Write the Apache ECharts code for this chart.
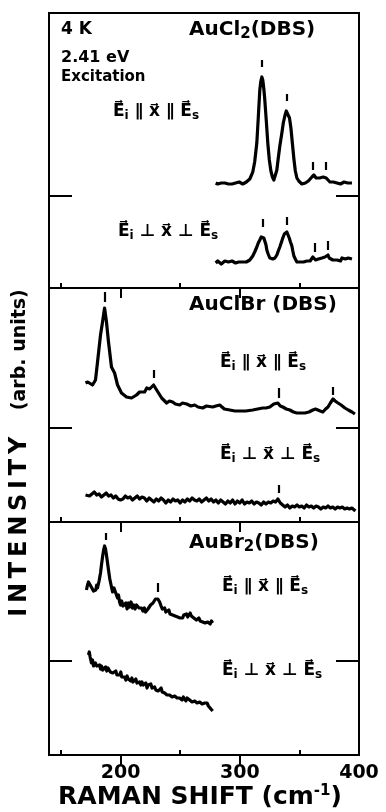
<!DOCTYPE html>
<html><head><meta charset="utf-8">
<script src="https://cdn.jsdelivr.net/npm/echarts@6/dist/echarts.min.js"></script>
<style>html,body{margin:0;padding:0;background:#fff}#c{width:386px;height:812px}</style>
</head><body><div id="c"></div>
<script>
// ---- x-axis ticks / labels (Raman shift, cm-1) ----
const xMinorTicks = [150, 250, 350];
const xMajorTicks = [200, 300];
const xTickLabels = [200, 300, 400];
// baseline-offset marks inside each panel (arb. units)
const offsetMarks = [92, 94, 94];

// ---- AuCl2 (DBS), Ei || x || Es ----
const aucl2ParX = [279.8,281.5,283,284.5,286,287.5,289,290.5,292,293.5,295,296.5,298,299.5,301,302.5,304,305.5,307,308.4,309.5,310.9,312.5,314.3,315.5,316.8,317.7,318.5,319.3,320.2,321,322.2,323.5,324.8,326.1,327.4,328.6,329.9,331.1,332.3,333.6,335.3,336.5,337.8,339,339.5,340.5,341.7,342.9,344.1,345.4,346.6,347.9,349.5,351,352.1,353.5,355,356.3,357.5,359,360.5,361.5,362.2,363,364,365.5,367,368.5,370,371.4,372.5,374,375.6,377,378.5,380,381.5,383,384.5,386,387.5,389,390.5,392,394.1];
const aucl2ParY = [105,104,106,105,103,105,106,104,105,104,106,105,104,106,105,104,105,106,107,109,112,116,126,145,170,198,207,211,208,199,188,168,145,128,117,111,108,110,118,130,142,155,165,172,177,178,176,170,160,145,129,117,110,107,105,104,106,105,106,107,109,111,113,113,112,110,109,110,111,111,111,110,108,106,105,106,104,105,106,104,105,106,104,105,104,105];
const aucl2ParMarkX = [318.5, 339.5, 361.3, 372.3];
const aucl2ParMarkLo = [221, 187, 118, 118];
const aucl2ParMarkHi = [228, 194, 126, 126];

// ---- AuCl2 (DBS), Ei ⊥ x ⊥ Es ----
const aucl2PerpX = [279.8,281.5,283,284.5,285.7,287.5,289,290.5,291.6,293.5,295,296.5,297.5,299,300.5,302.5,304,305.5,307,308.4,309.6,310.9,312.5,314.3,315.5,316.8,318,319.3,320.2,321,322,322.7,323.8,325.2,326.5,327.7,329.5,331.1,332.3,333.6,335,336.1,337.4,338.7,339.5,340.3,341.5,342.5,343.7,344.5,345.4,346.6,347.9,349.5,351,352.1,353.5,355,356.3,357.7,359,360.3,361.3,362.5,363.6,364.7,366,367.5,368.9,370,371.5,372.8,374,375,376.5,378,379.5,381.5,383,384.5,385.7,387,388.5,389.9,391,392.5,394.1];
const aucl2PerpY = [25,27,25,24,26,27,25,26,25,27,26,25,27,26,27,26,27,26,28,28,30,32,36,41,45,48,51,52,50,48,43,38,34,30,29,29,30,33,37,41,46,50,54,56,56,54,50,46,42,37,32,29,26,27,26,27,26,28,27,28,27,29,31,29,28,28,29,28,30,29,31,32,33,30,29,28,30,28,29,27,30,28,29,28,30,28,29];
const aucl2PerpMarkX = [319.3, 339.8, 362.5, 374.0];
const aucl2PerpMarkLo = [61, 63, 36, 38];
const aucl2PerpMarkHi = [69, 71, 45, 47];

// ---- AuClBr (DBS), Ei || x || Es ----
const auclbrParX = [170.6,172.5,174,176.5,179,180.7,183.2,184.9,186.6,188.2,189.9,192.4,195,197.5,200.8,205,209.2,213.4,216,220.2,222,224.4,227.7,230.3,234.5,238.7,241,243.7,246,249.6,252,255.5,259,262.2,265,268.9,272,277.3,280,283.2,287,291.6,296,300,305,310.9,315,319.3,322,325.2,328.5,331.9,334,336.1,339,342,345,347.9,351,354.6,358,361.3,363.5,365.5,367.5,369.7,372,374,376,378.2,380,382.4,385,388.2,391,394.1,396.6];
const auclbrParY = [139,140,140,137,142,160,187,200,214,200,180,155,149,137,129,125,124,127,130,130,134,133,137,132,124,119,121,120,118,117,119,118,116,117,115,114,116,115,116,117,113,112,111,111,111,112,113,114,114,115,118,119,116,115,113,112,110,109,109,109,110,112,113,112,111,110,113,115,119,123,121,119,117,114,112,110,108];
const auclbrParMarkX = [186.6, 227.7, 332.8, 378.2];
const auclbrParMarkLo = [220, 144, 124, 127];
const auclbrParMarkHi = [230, 152, 134, 135];

// ---- AuClBr (DBS), Ei ⊥ x ⊥ Es ----
const auclbrPerpX = [170.6,172,174,176,178,180,182,184,186,188,190,192,194,196,198,200,202,204,206,208,210,212,214,216,218,220,222,224,226,228,230,232,234,236,238,240,242,244,246,248,250,252,254,256,258,260,262,264,266,268,270,272,274,276,278,280,282,284,286,288,290,292,294,296,298,300,302,304,306,308,310,312,314,316,318,320,322,324,326,328,330,332,334,336,338,340,342,344,346,348,350,352,354,356,358,360,362,364,366,368,370,372,374,376,378,380,382,384,386,388,390,392,394,396,397];
const auclbrPerpY = [27,29,26,28,30,27,28,25,27,29,26,27,24,26,23,22,23,26,24,25,22,24,26,23,25,24,21,24,22,20,23,21,24,22,19,22,20,23,21,22,19,22,20,23,21,24,22,21,23,20,22,24,21,23,20,22,19,22,20,18,21,19,22,18,21,19,22,18,20,19,21,18,20,19,17,20,18,20,19,21,20,23,19,17,15,17,14,16,15,17,15,16,14,17,15,16,14,16,15,13,15,14,16,14,15,13,15,14,15,13,14,13,14,12,11];
const auclbrPerpMarkX = [332.8];
const auclbrPerpMarkLo = [29];
const auclbrPerpMarkHi = [37];

// ---- AuBr2 (DBS), Ei || x || Es ----
const aubr2ParX = [171.4,172.3,173.1,173.9,175,176.5,177.3,178.2,179.2,180,180.7,182,183.2,184,184.9,185.8,186.6,187.4,188.2,189,189.9,191,192.4,193.3,194.5,195.8,196.6,197.5,198.3,199.2,200,201,202,203.4,204.5,205.5,206.7,207.7,208.8,210.1,211,212.2,213.4,214.5,215.5,216.6,217.6,218.8,220,221,221.8,223,224.2,225.2,226.1,227.2,228.3,229.3,230.3,231.3,232.8,234,235,236.1,237,238,239.5,240.5,241.5,242.6,243.7,244.8,245.8,246.9,247.9,249,250,251,252.1,253,254.2,255.3,256.3,257.3,258.4,259.4,260.5,261.5,262.6,263.6,264.7,265.7,266.8,267.8,268.9,270,271,272,273.1,274.2,275.2,276.2,277.3];
const aubr2ParY = [165,170,173,172,169,168,164,162,165,170,167,174,182,190,198,205,209,206,200,193,185,176,168,163,167,165,160,157,160,153,150,154,149,148,152,146,152,148,153,147,150,146,150,152,147,149,147,144,147,143,143,146,148,150,150,152,154,156,157,156,153,149,146,145,147,143,143,145,141,143,140,142,139,141,138,140,137,139,137,140,138,141,138,140,142,139,140,137,138,135,135,137,134,136,133,135,132,134,133,135,131,134,132];
const aubr2ParMarkX = [187.5, 231.1];
const aubr2ParMarkLo = [215, 163];
const aubr2ParMarkHi = [222, 172];

// ---- AuBr2 (DBS), Ei ⊥ x ⊥ Es ----
const aubr2PerpX = [173.1,173.8,174.5,175.6,176.5,177.3,178.2,179,180,181,182.4,183.3,184,185,186.6,187.5,188.5,189.5,190.8,191.5,192.5,193.5,195,196,197,198,199.2,200.2,201,202,203.4,204.5,205.5,206.5,207.6,208.6,209.5,210.5,211.8,212.8,213.8,215,216,217,218,219,220.2,221.2,222.2,223.2,224.4,225.4,226.4,227.5,228.6,229.6,230.6,231.6,232.8,234,235,236,237,238,239,240,241.2,242.2,243.2,244.3,245.4,246.4,247.4,248.5,249.6,250.6,251.6,252.7,253.8,254.8,255.8,257,258,259,260,261,262.2,263.2,264.2,265.3,266.4,267.4,268.4,269.5,270.6,271.6,272.6,273.7,274.8,275.8,276.5,277.3];
const aubr2PerpY = [100,103,98,92,95,89,88,92,89,91,90,86,89,85,85,88,84,87,87,83,85,82,82,84,80,82,80,83,78,80,78,75,79,76,77,74,77,73,73,76,72,74,73,70,73,70,70,72,67,70,68,71,67,69,68,65,67,64,65,67,63,64,62,64,60,62,60,62,58,60,59,61,57,59,57,58,55,58,57,54,57,55,55,57,53,55,54,56,52,54,53,55,51,53,52,50,52,49,48,46,47,44];

// ---------------------------------------------------------------
const FONT = 'DejaVu Sans';
const panels = [{top: 13, h: 275}, {top: 288, h: 234}, {top: 522, h: 233}];
const pair = (xs, ys) => xs.map((x, i) => [x, ys[i]]);
const marks = (mx, lo, hi) => mx.map((x, i) => [{coord: [x, lo[i]]}, {coord: [x, hi[i]]}]);

const grid = panels.map(p => ({left: 49, width: 310, top: p.top, height: p.h, show: true,
  borderColor: '#000', borderWidth: 2, backgroundColor: 'transparent'}));

const xAxis = [];
const yAxis = [];
panels.forEach((p, i) => {
  xAxis.push({gridIndex: i, type: 'value', min: 140, max: 400,
    axisLine: {show: false}, splitLine: {show: false},
    axisTick: {show: true, inside: true, length: 5, customValues: xMinorTicks, lineStyle: {color: '#000', width: 2}},
    axisLabel: i === 2 ? {show: true, customValues: xTickLabels, color: '#000', fontSize: 19,
      fontWeight: 'bold', fontFamily: FONT, margin: 9} : {show: false}});
  xAxis.push({gridIndex: i, type: 'value', min: 140, max: 400,
    axisLine: {show: false}, splitLine: {show: false}, axisLabel: {show: false},
    axisTick: {show: true, inside: true, length: 10, customValues: xMajorTicks, lineStyle: {color: '#000', width: 2}}});
  ['left', 'right'].forEach(pos => yAxis.push({gridIndex: i, type: 'value', min: 0, max: p.h, position: pos,
    axisLine: {show: false}, splitLine: {show: false}, axisLabel: {show: false},
    axisTick: {show: true, inside: true, length: 23, customValues: [offsetMarks[i]], lineStyle: {color: '#000', width: 2}}}));
});

function spec(i, xs, ys, mk) {
  return {type: 'line', xAxisIndex: 2 * i, yAxisIndex: 2 * i, data: pair(xs, ys),
    showSymbol: false, symbol: 'none', clip: false,
    lineStyle: {color: '#000', width: 3.2, join: 'round'},
    markLine: mk ? {silent: true, symbol: ['none', 'none'], label: {show: false},
      lineStyle: {color: '#000', width: 2.2, type: 'solid'}, emphasis: {disabled: true}, data: mk} : undefined};
}
const series = [
  spec(0, aucl2ParX, aucl2ParY, marks(aucl2ParMarkX, aucl2ParMarkLo, aucl2ParMarkHi)),
  spec(0, aucl2PerpX, aucl2PerpY, marks(aucl2PerpMarkX, aucl2PerpMarkLo, aucl2PerpMarkHi)),
  spec(1, auclbrParX, auclbrParY, marks(auclbrParMarkX, auclbrParMarkLo, auclbrParMarkHi)),
  spec(1, auclbrPerpX, auclbrPerpY, marks(auclbrPerpMarkX, auclbrPerpMarkLo, auclbrPerpMarkHi)),
  spec(2, aubr2ParX, aubr2ParY, marks(aubr2ParMarkX, aubr2ParMarkLo, aubr2ParMarkHi)),
  spec(2, aubr2PerpX, aubr2PerpY, null)
];

function txt(x, y, text, size, extra) {
  return Object.assign({type: 'text', x: x, y: y, silent: true,
    style: Object.assign({text: text, fill: '#000', fontSize: size, fontWeight: 'bold', fontFamily: FONT,
      align: 'left', verticalAlign: 'middle'}, extra || {})});
}
const subRich = (main, sub) => ({lineHeight: main + 3,
  rich: {sub: {fontSize: sub, fontWeight: 'bold', fontFamily: FONT, fill: '#000', verticalAlign: 'bottom', lineHeight: sub - 2}}});
const PAR = 'E\u20D7{sub|i} \u2225 x\u20D7 \u2225 E\u20D7{sub|s}';
const PERP = 'E\u20D7{sub|i} \u22A5 x\u20D7 \u22A5 E\u20D7{sub|s}';

const graphic = [
  txt(61, 30, '4 K', 17),
  txt(189, 30, 'AuCl{sub|2}(DBS)', 20, subRich(20, 15)),
  txt(61, 58, '2.41 eV', 16),
  txt(61, 77, 'Excitation', 15),
  txt(113, 112, PAR, 17, subRich(17, 12)),
  txt(118, 232, PERP, 17, subRich(17, 12)),
  txt(189, 305, 'AuClBr (DBS)', 20),
  txt(220, 363, PAR, 17, subRich(17, 12)),
  txt(220, 455, PERP, 17, subRich(17, 12)),
  txt(189, 543, 'AuBr{sub|2}(DBS)', 20, subRich(20, 15)),
  txt(222, 587, PAR, 17, subRich(17, 12)),
  txt(222, 671, PERP, 17, subRich(17, 12)),
  {type: 'text', x: 20, y: 453, rotation: Math.PI / 2, silent: true,
    style: {text: '{big|I\u2009N\u2009T\u2009E\u2009N\u2009S\u2009I\u2009T\u2009Y}{sm|    (arb. units)}', fill: '#000',
      align: 'center', verticalAlign: 'middle', fontFamily: FONT, fontWeight: 'bold', fontSize: 20,
      rich: {big: {fontSize: 24, fontWeight: 'bold', fontFamily: FONT, fill: '#000'},
             sm: {fontSize: 19, fontWeight: 'bold', fontFamily: FONT, fill: '#000'}}}},
  {type: 'text', x: 200, y: 797, silent: true,
    style: {text: 'RAMAN SHIFT (cm{sup|-1})', fill: '#000', align: 'center', verticalAlign: 'middle',
      fontFamily: FONT, fontWeight: 'bold', fontSize: 25, lineHeight: 27,
      rich: {sup: {fontSize: 15, fontWeight: 'bold', fontFamily: FONT, fill: '#000', verticalAlign: 'top', lineHeight: 15}}}}
];

const chart = echarts.init(document.getElementById('c'), null, {renderer: 'canvas'});
chart.setOption({animation: false, backgroundColor: '#fff', grid, xAxis, yAxis, series, graphic});
</script></body></html>
